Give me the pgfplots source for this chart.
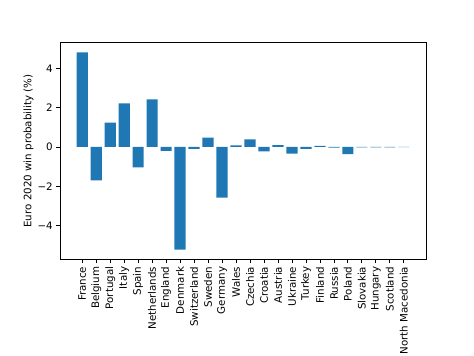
\documentclass[border=0pt]{standalone}
\usepackage{pgfplots}
\pgfplotsset{compat=1.18}
\usepackage{fontspec}
\setmainfont{DejaVu Sans}
\definecolor{mplblue}{HTML}{1F77B4}
\begin{document}
\begin{tikzpicture}[font=\fontsize{10}{12}\selectfont]
\path[use as bounding box] (0,0) rectangle (460.8pt,345.6pt);
\begin{axis}[
  at={(58.3pt,93.3pt)}, anchor=south west,
  scale only axis, width=355.9pt, height=211pt,
  xmin=-1.59, xmax=24.59, ymin=-5.72, ymax=5.31,
  axis line style={line width=0.8pt},
  tick align=outside, xtick pos=bottom, ytick pos=left,
  major tick length=3.5pt,
  every tick/.style={black, line width=0.8pt},
  xtick={0,...,23},
  xticklabels={France,Belgium,Portugal,Italy,Spain,Netherlands,England,Denmark,Switzerland,Sweden,Germany,Wales,Czechia,Croatia,Austria,Ukraine,Turkey,Finland,Russia,Poland,Slovakia,Hungary,Scotland,North Macedonia},
  xticklabel style={rotate=90, anchor=east, inner sep=0pt, outer sep=3.5pt},
  ytick={-4,-2,0,2,4},
  yticklabels={−4,−2,0,2,4},
  yticklabel style={inner sep=0pt, outer sep=3.5pt},
  ylabel={Euro 2020 win probability (\%)},
  ylabel style={inner sep=0pt, outer sep=4pt},
  ymajorgrids=false, xmajorgrids=false,
]
\addplot[ybar, bar width=0.8, bar shift=0pt, fill=mplblue, draw=none] coordinates {
(0,4.81) (1,-1.70) (2,1.24) (3,2.21) (4,-1.04) (5,2.42) (6,-0.20) (7,-5.22)
(8,-0.10) (9,0.48) (10,-2.57) (11,0.08) (12,0.39) (13,-0.22) (14,0.10) (15,-0.34)
(16,-0.10) (17,0.05) (18,-0.03) (19,-0.37) (20,-0.02) (21,-0.02) (22,-0.02) (23,-0.01)
};
\end{axis}
\end{tikzpicture}
\end{document}
